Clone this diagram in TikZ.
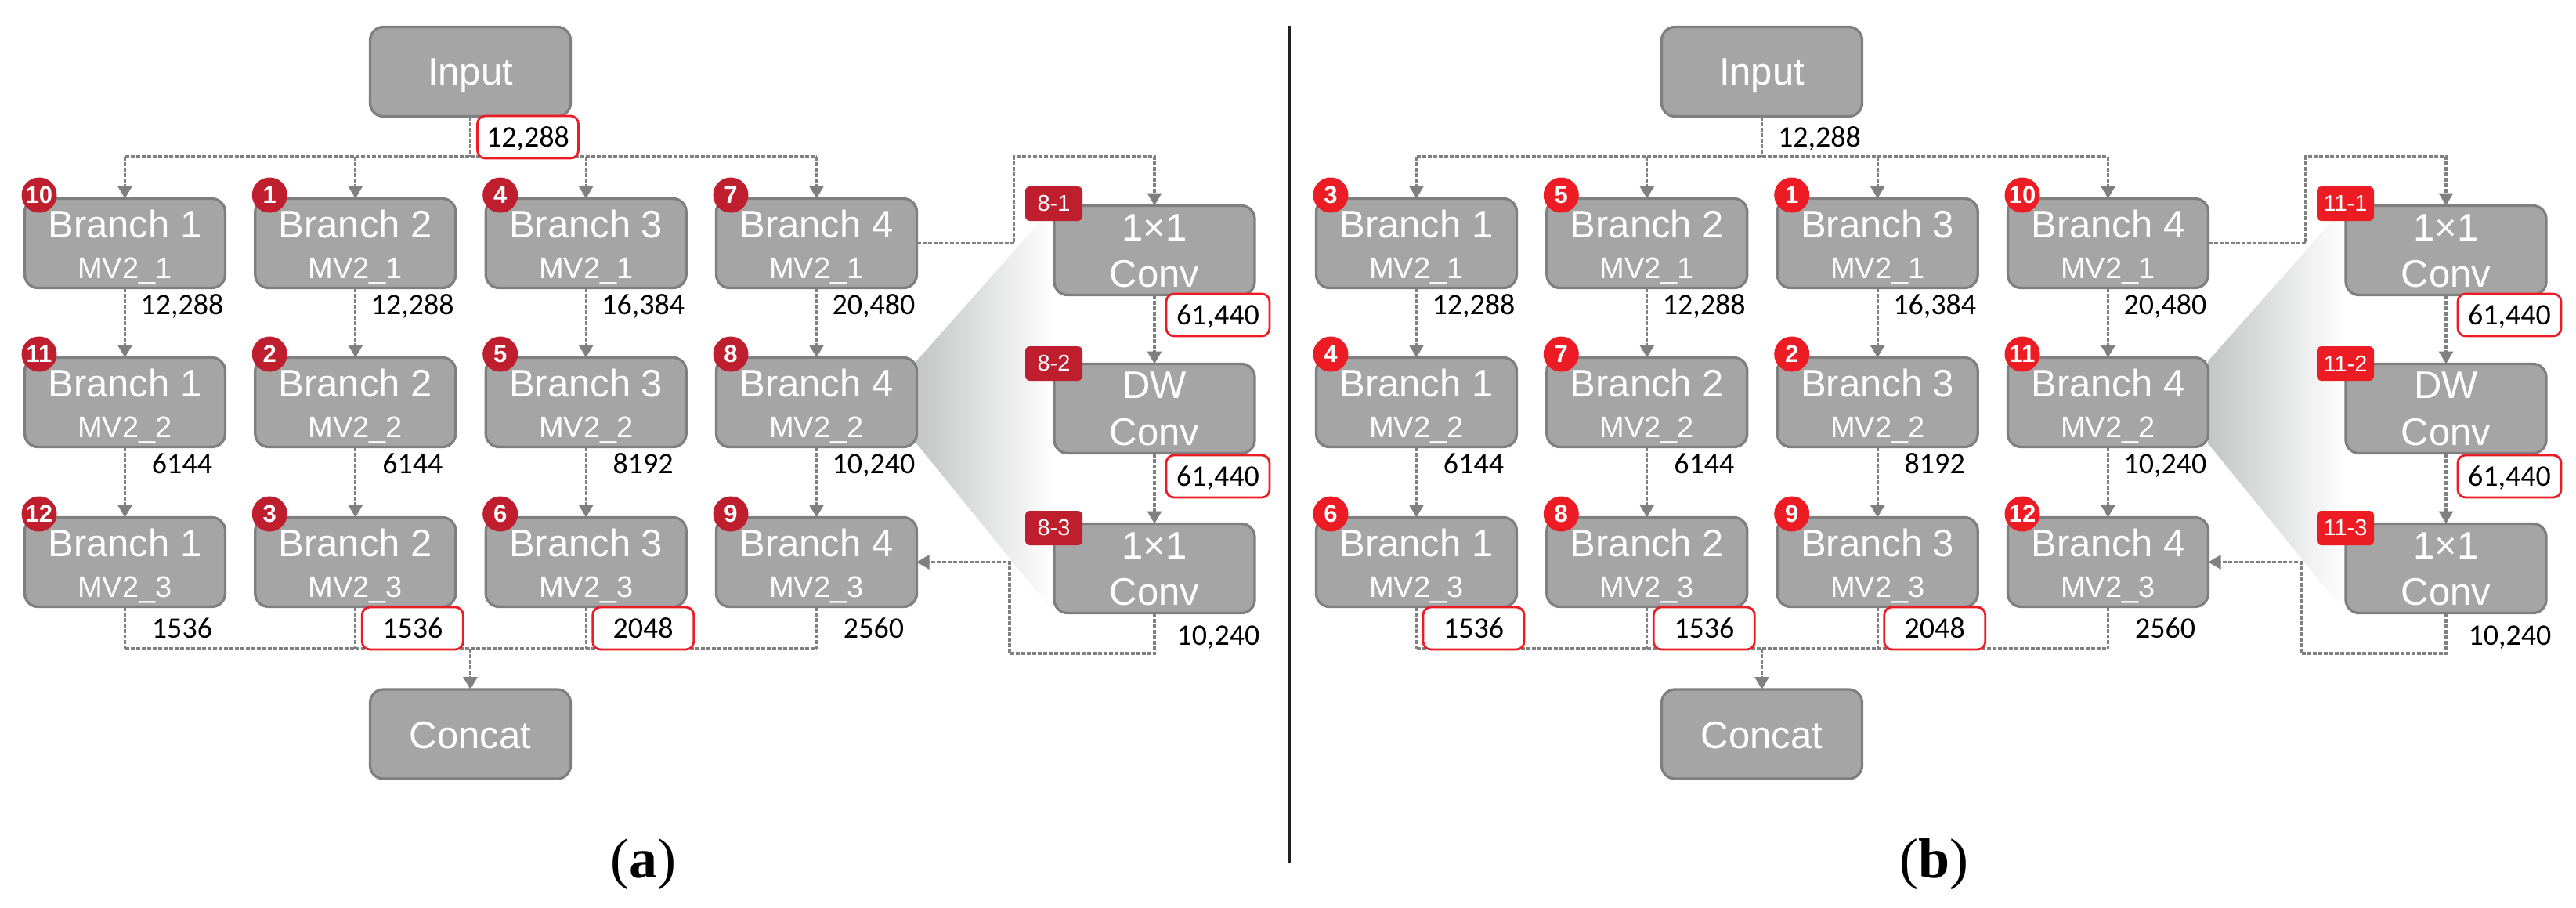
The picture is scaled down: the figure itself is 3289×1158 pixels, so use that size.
\documentclass[tikz,border=0pt]{standalone}
\usepackage{fontspec}
\usetikzlibrary{arrows.meta,calc}
\newfontfamily\arialf{Liberation Sans}
\newfontfamily\calibf{Carlito}
\newfontfamily\serff{Liberation Serif}
\definecolor{boxfill}{HTML}{A5A5A5}
\definecolor{boxline}{HTML}{7F7F7F}
\definecolor{lnc}{HTML}{808080}
\definecolor{darkbadge}{HTML}{BE1E2D}
\definecolor{brightbadge}{HTML}{ED1C24}
\definecolor{redline}{HTML}{ED1C24}
\definecolor{fangray}{HTML}{C4C5C5}
\definecolor{sepc}{HTML}{231F20}
\pgfdeclarelayer{background}
\pgfdeclarelayer{lines}
\pgfsetlayers{background,lines,main}
\tikzset{
  blk/.style={draw=boxline, fill=boxfill, line width=1.65pt, rounded corners=8.5pt, minimum width=128pt, minimum height=57pt, inner sep=0pt, outer sep=0pt},
  btxt/.style={font={\arialf\fontsize{24.5}{26}\selectfont}, text=white, anchor=base, inner sep=0pt},
  mvtxt/.style={font={\arialf\fontsize{19}{20}\selectfont}, text=white, anchor=base, inner sep=0pt},
  cbadge/.style={circle, fill=#1, text=white, font={\arialf\bfseries\fontsize{15.5}{16}\selectfont}, minimum size=22.5pt, inner sep=0pt},
  rbadge/.style={fill=#1, text=white, rounded corners=3pt, font={\arialf\fontsize{14.5}{15}\selectfont}, minimum width=36.5pt, minimum height=22pt, inner sep=0pt},
  lbl/.style={font={\calibf\fontsize{19}{20}\selectfont}, text height=12pt, text depth=0pt, inner sep=0pt, minimum width=64.5pt, minimum height=27pt, rounded corners=5pt, line width=1.4pt},
  lblred/.style={lbl, draw=redline, fill=white},
  clbl/.style={lbl, minimum width=66pt},
  clblred/.style={lblred, minimum width=66pt},
  dl/.style={draw=lnc, line width=1.65pt, dash pattern=on 2.5pt off 1pt},
  arr/.style={dl, -{Triangle[width=9pt,length=8pt]}},
  captxt/.style={font={\serff\fontsize{36}{40}\selectfont}, anchor=base, inner sep=0pt},
}
\newcommand{\drawpanel}[7]{%
\begin{scope}[shift={(#7,0)}]
  \node[blk] (#1-in) at (600.5,91.5) {};
  \node[btxt] (#1-in-t) at (600.5,108.5) {Input};
  \node[blk] (#1-cat) at (600.5,937) {};
  \node[btxt] (#1-cat-t) at (600.5,955.5) {Concat};
  \foreach \c/\x in {1/159.5,2/453.8,3/748.2,4/1042.5}{
    \foreach \r/\y in {1/310.5,2/513.5,3/717.5}{
      \node[blk] (#1-b-\r-\c) at (\x,\y) {};
      \node[btxt] (#1-bt-\r-\c) at (\x,\y-7.5) {Branch \c};
      \node[mvtxt] (#1-bm-\r-\c) at (\x,\y+44.5) {MV2\_\r};
    }
  }
  \foreach \r/\c/\n in {#3}{
    \node[cbadge=#2] (#1-k-\r-\c) at ($(#1-b-\r-\c.north west)+(18.5,-4.5)$) {\n};
  }
  \node[blk] (#1-v-1) at (1474,319.5) {};
  \node[blk] (#1-v-2) at (1474,521.5) {};
  \node[blk] (#1-v-3) at (1474,725.5) {};
  \node[btxt] (#1-vt-1) at (1474,307) {1×1};
  \node[btxt] (#1-vc-1) at (1474,366) {Conv};
  \node[btxt] (#1-vt-2) at (1474,508) {DW};
  \node[btxt] (#1-vc-2) at (1474,568) {Conv};
  \node[btxt] (#1-vt-3) at (1474,713) {1×1};
  \node[btxt] (#1-vc-3) at (1474,772) {Conv};
  \node[rbadge=#2] (#1-vk-1) at (1345.5,260) {#4-1};
  \node[rbadge=#2] (#1-vk-2) at (1345.5,464) {#4-2};
  \node[rbadge=#2] (#1-vk-3) at (1345.5,674) {#4-3};
  \node[#5] (#1-l-in) at (674,175) {12,288};
  \foreach \c/\x/\t in {1/159.5/{12,288},2/453.8/{12,288},3/748.2/{16,384},4/1042.5/{20,480}}{
    \node[lbl] (#1-l-1-\c) at (\x+73,389) {\t};
  }
  \foreach \c/\x/\t in {1/159.5/6144,2/453.8/6144,3/748.2/8192,4/1042.5/{10,240}}{
    \node[lbl] (#1-l-2-\c) at (\x+73,592) {\t};
  }
  \foreach \c/\x/\t/\f in {#6}{
    \ifnum\f=1
      \node[lblred] (#1-l-3-\c) at (\x+73,802) {\t};
    \else
      \node[lbl] (#1-l-3-\c) at (\x+73,802) {\t};
    \fi
  }
  \node[clblred] (#1-l-v1) at (1555,402) {61,440};
  \node[clblred] (#1-l-v2) at (1555,608) {61,440};
  \node[clbl] (#1-l-v3) at (1555.5,811) {10,240};
  \begin{pgfonlayer}{lines}
    \coordinate (#1-split) at (600.5,200);
    \coordinate (#1-join) at (600.5,828);
    \draw[dl] (#1-in) -- (#1-split);
    \draw[dl] (#1-b-1-1.north |- #1-split) -- (#1-b-1-4.north |- #1-split);
    \foreach \c in {1,...,4}{
      \draw[arr] (#1-b-1-\c.north |- #1-split) -- (#1-b-1-\c.north);
      \draw[arr] (#1-b-1-\c) -- (#1-b-2-\c);
      \draw[arr] (#1-b-2-\c) -- (#1-b-3-\c);
      \draw[dl] (#1-b-3-\c.south) -- (#1-b-3-\c.south |- #1-join);
    }
    \draw[dl] (#1-b-3-1.south |- #1-join) -- (#1-b-3-4.south |- #1-join);
    \draw[arr] (#1-join) -- (#1-cat);
    \coordinate (#1-p1) at (1294.6,200);
    \coordinate (#1-p2) at (1289,834);
    \draw[arr] (#1-b-1-4.east) -| (#1-p1) -| (#1-v-1.north);
    \draw[arr] (#1-v-1) -- (#1-v-2);
    \draw[arr] (#1-v-2) -- (#1-v-3);
    \draw[arr] (#1-v-3.south) |- (#1-p2) |- (#1-b-3-4.east);
  \end{pgfonlayer}
  \begin{pgfonlayer}{background}
    \shade[left color=fangray, right color=white] ($(#1-b-2-4.north east)+(0,4)$) -- (#1-v-1.north west) -- (#1-v-3.south west) -- ($(#1-b-2-4.south east)+(0,-4)$) -- cycle;
  \end{pgfonlayer}
\end{scope}}
\begin{document}
\begin{tikzpicture}[x=0.5pt,y=-0.5pt]
\useasboundingbox (0,0) rectangle (3289,1158);
\drawpanel{a}{darkbadge}{1/1/10,1/2/1,1/3/4,1/4/7,2/1/11,2/2/2,2/3/5,2/4/8,3/1/12,3/2/3,3/3/6,3/4/9}{8}{lblred}{1/159.5/1536/0,2/453.8/1536/1,3/748.2/2048/1,4/1042.5/2560/0}{0}
\drawpanel{b}{brightbadge}{1/1/3,1/2/5,1/3/1,1/4/10,2/1/4,2/2/7,2/3/2,2/4/11,3/1/6,3/2/8,3/3/9,3/4/12}{11}{lbl}{1/159.5/1536/1,2/453.8/1536/1,3/748.2/2048/1,4/1042.5/2560/0}{1649}
\coordinate (septop) at (1646,33);
\coordinate (sepbot) at (1646,1102);
\draw[sepc, line width=2pt] (septop) -- (sepbot);
\node[captxt] (capa) at (821,1120) {(\textbf{a})};
\node[captxt] (capb) at (2469,1120) {(\textbf{b})};
\end{tikzpicture}
\end{document}
